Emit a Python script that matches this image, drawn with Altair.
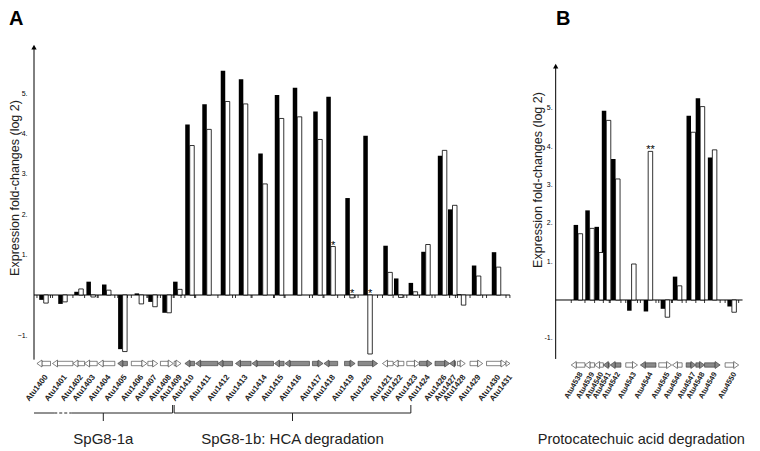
import altair as alt
import numpy as np
import pandas as pd

FONT = "Liberation Sans"

# ---------------- Panel A: SpG8-1 locus (positions in kb along the gene map) ----------------
genes_a = ["Atu1400", "Atu1401", "Atu1402", "Atu1403", "Atu1404", "Atu1405", "Atu1406", "Atu1407",
           "Atu1408", "Atu1409", "Atu1410", "Atu1411", "Atu1412", "Atu1413", "Atu1414", "Atu1415",
           "Atu1416", "Atu1417", "Atu1418", "Atu1419", "Atu1420", "Atu1421", "Atu1422", "Atu1423",
           "Atu1424", "Atu1426", "Atu1427", "Atu1428", "Atu1429", "Atu1430", "Atu1431"]
start_a = [0.19, 1.19, 2.50, 3.25, 4.12, 5.38, 6.25, 7.31, 8.12, 9.00, 9.69, 10.38, 11.81, 12.94,
           14.00, 15.44, 16.12, 17.88, 18.62, 19.94, 20.81, 22.38, 23.06, 23.94, 24.75, 25.75,
           26.69, 27.19, 28.00, 29.06, 30.31]
end_a = [1.06, 2.50, 3.25, 4.06, 5.19, 6.00, 7.25, 7.94, 8.94, 9.44, 10.31, 11.81, 12.75, 13.94,
         15.38, 16.06, 17.69, 18.56, 19.50, 20.62, 22.06, 23.06, 23.75, 24.75, 25.56, 26.69,
         27.06, 27.69, 28.81, 30.31, 30.56]
strand_a = ["-", "-", "-", "-", "-", "-", "+", "+", "+", "+", "-", "-", "-", "-", "-", "-",
            "-", "+", "-", "+", "+", "-", "-", "+", "+", "+", "-", "+", "+", "+", "+"]
kind_a = ["white"] * 5 + ["grey"] + ["white"] * 4 + ["grey"] * 11 + ["white"] * 3 + ["grey"] * 3 + ["white"] * 4
black_a = [-0.12, -0.22, 0.08, 0.33, 0.26, -1.34, 0.04, -0.17, -0.44, 0.33, 4.22, 4.72, 5.55, 5.34,
           3.50, 4.95, 5.13, 4.54, 4.91, 2.40, 3.94, 1.22, 0.41, 0.30, 1.07, 3.45, 2.12, 0.02,
           0.73, 1.06, None]
white_a = [-0.20, -0.17, 0.15, -0.05, 0.12, -1.40, -0.22, -0.29, -0.44, 0.14, 3.70, 4.10, 4.79, 4.73,
           2.75, 4.37, 4.41, 3.85, 1.20, -0.07, -1.46, 0.56, -0.06, 0.08, 1.25, 3.58, 2.22, -0.25,
           0.47, 0.69, None]
sig_a = {"Atu1418": "*", "Atu1419": "*", "Atu1420": "*"}
ticks_values = [-1, 1, 2, 3, 4, 5]

# brace groups in panel A: (label, start kb, end kb, dashed break start, dashed break end)
groups_a = [("SpG8-1a", 0.0, 8.9, 1.3, 2.4),
            ("SpG8-1b: HCA degradation", 9.0, 24.2, None, None)]

# ---------------- Panel B: protocatechuate locus ----------------
genes_b = ["Atu4538", "Atu4539", "Atu4540", "Atu4541", "Atu4542", "Atu4543", "Atu4544", "Atu4545",
           "Atu4546", "Atu4547", "Atu4548", "Atu4549", "Atu4550"]
start_b = [1.00, 1.88, 2.50, 3.06, 3.50, 4.50, 5.44, 6.62, 7.50, 8.38, 9.00, 9.56, 10.88]
end_b = [1.88, 2.50, 3.06, 3.44, 4.19, 5.25, 6.44, 7.44, 8.12, 9.00, 9.56, 10.56, 11.75]
strand_b = ["-", "-", "-", "-", "-", "+", "-", "+", "-", "+", "+", "+", "+"]
kind_b = ["white", "white", "white", "grey", "grey", "white", "grey", "white", "white",
          "grey", "grey", "grey", "white"]
black_b = [1.96, 2.34, 1.91, 4.94, 3.68, -0.28, -0.30, -0.23, 0.61, 4.81, 5.27, 3.72, -0.17]
white_b = [1.73, 1.87, 1.24, 4.69, 3.16, 0.94, 3.88, -0.45, 0.37, 4.38, 5.05, 3.92, -0.32]
sig_b = {"Atu4544": "**"}
label_b = "Protocatechuic acid degradation"
label_b_center = 5.5

# ---------------- layout constants ----------------
B_OFFSET = 33.5          # where panel B's map starts on the shared x scale
PAD_L = 21
W, H = 723, 443
PX_PER_KB = (558 - 8 - PAD_L) / B_OFFSET
XMAX = W / PX_PER_KB
HEAD = 5.0 / PX_PER_KB   # arrow head length
BW = 4.5                 # bar width px

X = alt.Scale(domain=[0, XMAX], nice=False, zero=False)
FILL = alt.Scale(domain=["white", "grey"], range=["white", "#8a8a8a"])
PATH_R = "M-0.714,-1L0.714,0L-0.714,1Z"
PATH_L = "M0.714,-1L-0.714,0L0.714,1Z"
SHAPE = alt.Scale(domain=["+", "-"], range=[PATH_R, PATH_L])


def xq(f):
    return alt.X(f, type="quantitative", scale=X, axis=None)


def gene_frame(genes, start, end, strand, kind, black, white, sig, offset):
    df = pd.DataFrame({"gene": genes, "start": start, "end": end, "strand": strand,
                       "kind": kind, "black": black, "white": white})
    df["black"] = pd.to_numeric(df["black"])
    df["white"] = pd.to_numeric(df["white"])
    df["start"] = df["start"] + offset
    df["end"] = df["end"] + offset
    df["mid"] = (df["start"] + df["end"]) / 2
    head = np.minimum(HEAD, df["end"] - df["start"])
    plus = df["strand"] == "+"
    df["body0"] = np.where(plus, df["start"], df["start"] + head)
    df["body1"] = np.where(plus, df["end"] - head, df["end"])
    df["headx"] = np.where(plus, df["end"] - head / 2, df["start"] + head / 2)
    df["hsize"] = (7.0 * head / HEAD) ** 2
    df["sig"] = [sig.get(g, "") for g in genes]
    df["sigy"] = df["white"].clip(lower=0)
    return df


def panel(df, domain, axis_kb, y_lo, y_hi, y_axis, row_y, lab_y, lab_angle, lab_size, zero_end):
    Y = alt.Scale(domain=domain, nice=False, zero=False)

    def yq(f):
        return alt.Y(f, type="quantitative", scale=Y, axis=y_axis)

    base = alt.Chart(df)
    layers = []
    # zero line
    zl = pd.DataFrame({"x0": [axis_kb], "x1": [zero_end], "y": [0.0]})
    layers.append(alt.Chart(zl).mark_rule(color="black", strokeWidth=1).encode(
        x=xq("x0"), x2="x1", y=yq("y")))
    # gene boundary ticks on zero line
    bnd = sorted(set(df["start"].round(3)).union(set(df["end"].round(3))))
    bt = pd.DataFrame({"x": bnd, "y": 0.0})
    layers.append(alt.Chart(bt).mark_rule(color="black", strokeWidth=0.8, y2Offset=3).encode(
        x=xq("x"), y=yq("y"), y2="y"))
    # bars
    layers.append(base.transform_filter("isValid(datum.black)").mark_bar(
        size=BW, xOffset=-BW / 2, color="black", orient="vertical").encode(
        x=xq("mid"), y=yq("black"), y2=alt.datum(0)))
    layers.append(base.transform_filter("isValid(datum.white)").mark_bar(
        size=BW, xOffset=BW / 2, fill="white", stroke="black", strokeWidth=0.8,
        orient="vertical").encode(
        x=xq("mid"), y=yq("white"), y2=alt.datum(0)))
    # significance marks
    layers.append(base.transform_filter("datum.sig != ''").mark_text(
        font=FONT, fontSize=11, xOffset=BW / 2, baseline="alphabetic", dy=2,
        fill="black", color="black").encode(
        x=xq("mid"), y=yq("sigy"), text="sig:N"))
    # y axis line + arrow head
    ax = pd.DataFrame({"x": [axis_kb], "y0": [y_lo], "y1": [y_hi]})
    layers.append(alt.Chart(ax).mark_rule(color="black", strokeWidth=1).encode(
        x=xq("x"), y=yq("y0"), y2="y1"))
    layers.append(alt.Chart(ax).mark_point(shape="triangle-up", filled=True, color="black",
                                           size=28, opacity=1, yOffset=-1).encode(
        x=xq("x"), y=yq("y1")))
    # gene map arrows
    layers.append(base.transform_filter("datum.body1 > datum.body0 + 0.001").mark_rect(
        stroke="#333333", strokeWidth=0.6).encode(
        x=xq("body0"), x2="body1", y=alt.value(row_y - 2.2), y2=alt.value(row_y + 2.2),
        fill=alt.Fill("kind:N", scale=FILL, legend=None)))
    layers.append(base.mark_point(filled=True, stroke="#333333", strokeWidth=0.6, opacity=1).encode(
        x=xq("headx"), y=alt.value(row_y),
        shape=alt.Shape("strand:N", scale=SHAPE, legend=None),
        size=alt.Size("hsize:Q", scale=None, legend=None),
        fill=alt.Fill("kind:N", scale=FILL, legend=None)))
    # gene names
    layers.append(base.mark_text(font=FONT, fontSize=lab_size, fontWeight="bold", angle=lab_angle,
                                 align="right", baseline="middle", xOffset=3, fill="#222222").encode(
        x=xq("mid"), y=alt.value(lab_y), text="gene:N"))
    return layers, yq


df_a = gene_frame(genes_a, start_a, end_a, strand_a, kind_a, black_a, white_a, sig_a, 0.0)
df_b = gene_frame(genes_b, start_b, end_b, strand_b, kind_b, black_b, white_b, sig_b, B_OFFSET)

axis_a = alt.Axis(values=ticks_values, labelExpr="datum.label + '.'", labelFontSize=7,
                  labelFont=FONT, labelColor="black", tickSize=0, labelPadding=2,
                  domain=False, grid=False, title=None)

layers_a, yq_a = panel(df_a, [-3.861, 7.104], 0.0, -1.6, 6.11, axis_a, 355.5, 368, 308, 8,
                       df_a["end"].max())
layers_b, yq_b = panel(df_b, [-3.943, 7.624], B_OFFSET, -1.54, 6.08, None, 357, 365, 300, 7.5,
                       df_b["end"].max() + 0.25)

# manual tick labels for panel B's axis (it sits in the middle of the canvas)
tb = pd.DataFrame({"x": B_OFFSET, "y": ticks_values, "t": [f"{v}." for v in ticks_values]})
layers_b.append(alt.Chart(tb).mark_text(font=FONT, fontSize=7, align="right", baseline="middle",
                                        xOffset=-3, fill="black").encode(
    x=xq("x"), y=yq_b("y"), text="t:N"))

# braces and group labels (panel A)
BR_Y = 405
seg_rows, hook_rows, spike_rows, glabel_rows = [], [], [], []
for lab, s, e, d0, d1 in groups_a:
    if d0 is None:
        seg_rows.append({"x0": s, "x1": e, "dash": "solid"})
    else:
        seg_rows += [{"x0": s, "x1": d0, "dash": "solid"},
                     {"x0": d0, "x1": d1, "dash": "dash"},
                     {"x0": d1, "x1": e, "dash": "solid"}]
    if s > 0.01:
        hook_rows.append({"x": s})
    hook_rows.append({"x": e})
    spike_rows.append({"x": (s + e) / 2})
    glabel_rows.append({"x": (s + e) / 2, "t": lab})
segs = pd.DataFrame(seg_rows)
layers_a.append(alt.Chart(segs).transform_filter("datum.dash == 'solid'").mark_rule(
    color="#222222", strokeWidth=1).encode(x=xq("x0"), x2="x1", y=alt.value(BR_Y)))
layers_a.append(alt.Chart(segs).transform_filter("datum.dash == 'dash'").mark_rule(
    color="#222222", strokeWidth=1, strokeDash=[3, 2]).encode(x=xq("x0"), x2="x1", y=alt.value(BR_Y)))
layers_a.append(alt.Chart(pd.DataFrame(hook_rows)).mark_rule(color="#222222", strokeWidth=1).encode(
    x=xq("x"), y=alt.value(BR_Y - 8), y2=alt.value(BR_Y)))
layers_a.append(alt.Chart(pd.DataFrame(spike_rows)).mark_rule(color="#222222", strokeWidth=1).encode(
    x=xq("x"), y=alt.value(BR_Y), y2=alt.value(BR_Y + 8)))
layers_a.append(alt.Chart(pd.DataFrame(glabel_rows)).mark_text(
    font=FONT, fontSize=15, baseline="alphabetic", fill="#222222").encode(
    x=xq("x"), y=alt.value(436), text="t:N"))
layers_b.append(alt.Chart(pd.DataFrame({"x": [B_OFFSET + label_b_center], "t": [label_b]})).mark_text(
    font=FONT, fontSize=14.5, baseline="alphabetic", fill="#222222").encode(
    x=xq("x"), y=alt.value(436), text="t:N"))

# axis titles and panel letters
ytitle = "Expression fold-changes (log 2)"
layers_a.append(alt.Chart(pd.DataFrame({"t": [ytitle]})).mark_text(
    font=FONT, fontSize=12.5, angle=270, align="center", baseline="middle", fill="#222222").encode(
    x=alt.value(-14), y=alt.value(180), text="t:N"))
layers_b.append(alt.Chart(pd.DataFrame({"t": [ytitle]})).mark_text(
    font=FONT, fontSize=12.5, angle=270, align="center", baseline="middle", fill="#222222").encode(
    x=alt.value(537.5 - 8 - PAD_L), y=alt.value(172), text="t:N"))
letters = pd.DataFrame({"t": ["A", "B"], "px": [-20, 527]})
layers_a.append(alt.Chart(letters).mark_text(
    font=FONT, fontSize=20, fontWeight="bold", align="left", baseline="top", fill="black").encode(
    x=alt.X("px:Q", scale=None, axis=None), y=alt.value(1), text="t:N"))

chart = alt.layer(alt.layer(*layers_a), alt.layer(*layers_b)).resolve_scale(
    y="independent").properties(
    width=W, height=H,
    padding={"left": PAD_L, "top": 0, "right": 0, "bottom": 0},
    autosize=alt.AutoSizeParams(type="none"),
).configure_view(stroke=None)

chart.save("out.html", embed_options={"renderer": "svg", "actions": False})
